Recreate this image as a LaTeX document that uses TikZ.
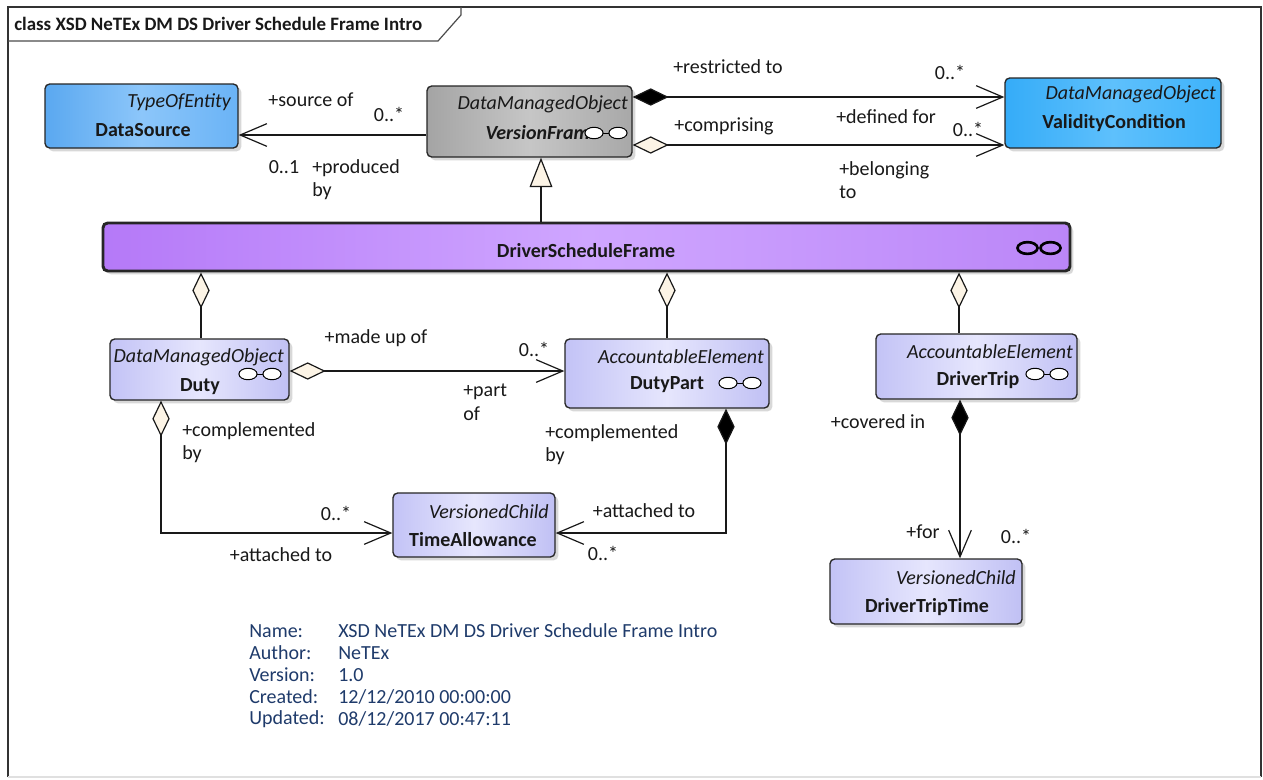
\documentclass[tikz,border=0pt]{standalone}
\usepackage{fontspec}
\setmainfont{Carlito}
\usetikzlibrary{arrows.meta,calc,fit,shadows}
\definecolor{cream}{HTML}{FCF4E6}
\definecolor{notecol}{HTML}{1F3B6B}
\definecolor{dsL}{HTML}{5AA8F0}\definecolor{dsM}{HTML}{8CC6FA}\definecolor{dsR}{HTML}{6AB3F6}
\definecolor{vcL}{HTML}{35ACF8}\definecolor{vcM}{HTML}{5EC0FC}\definecolor{vcR}{HTML}{3DB2FA}
\definecolor{gyL}{HTML}{A4A4A4}\definecolor{gyM}{HTML}{C6C6C6}\definecolor{gyR}{HTML}{A8A8A8}
\definecolor{puL}{HTML}{B579F8}\definecolor{puM}{HTML}{CFA6FF}\definecolor{puR}{HTML}{BB86F8}
\definecolor{lvL}{HTML}{C3C3F6}\definecolor{lvM}{HTML}{E6E6FD}\definecolor{lvR}{HTML}{C0C0F4}
\newcommand{\fsz}{\fontsize{15}{17.5}\selectfont}
\tikzset{
  basebox/.style={draw=black!85, line width=1pt, rounded corners=3.5pt, inner sep=0pt,
    drop shadow={shadow xshift=2.5pt, shadow yshift=-2.5pt, fill=black!30, opacity=0.5}},
  dsbox/.style={basebox, left color=dsL, right color=dsR, middle color=dsM},
  vcbox/.style={basebox, left color=vcL, right color=vcR, middle color=vcM},
  gybox/.style={basebox, left color=gyL, right color=gyR, middle color=gyM},
  pubox/.style={basebox, line width=2.2pt, left color=puL, right color=puR, middle color=puM},
  lvbox/.style={basebox, left color=lvL, right color=lvR, middle color=lvM},
  txt/.style={inner sep=0pt, text=black!90, font=\fsz},
  stereo/.style={txt, anchor=east, font=\fsz\itshape},
  cname/.style={txt, font=\fsz\bfseries},
  mlbl/.style={txt, align=left, anchor=north west},
  note/.style={inner sep=0pt, anchor=west, text=notecol, font=\fsz},
  ln/.style={line width=0.9pt, draw=black!90},
  barb/.tip={Straight Barb[length=20pt,width=17pt,line width=0.9pt]},
  hdia/.tip={Diamond[length=27pt,width=13pt,fill=cream]},
  fdia/.tip={Diamond[length=27pt,width=13pt,fill=black]},
  assocarrow/.style={ln, -barb},
  aggonly/.style={ln, hdia-},
  aggarrow/.style={ln, hdia-barb},
  comparrow/.style={ln, fdia-barb},
  genarrow/.style={ln, -{Triangle[length=22pt,width=17pt,fill=cream]}},
  linkicon/.pic={
    \draw[line width=0.75pt] (-3,0) -- (3,0);
    \draw[line width=0.75pt, fill=white] (-12,0) ellipse [x radius=6.8pt, y radius=4.3pt];
    \draw[line width=0.75pt, fill=white] (12,0) ellipse [x radius=6.8pt, y radius=4.3pt];
  },
  bigicon/.pic={
    \draw[line width=2pt] (-11.5,0) ellipse [x radius=7.5pt, y radius=4.4pt];
    \draw[line width=2pt] (11.5,0) ellipse [x radius=7.5pt, y radius=4.4pt];
  }
}
\begin{document}
\begin{tikzpicture}[x=0.75pt,y=-0.75pt]
\useasboundingbox (0,0) rectangle (1263,779);
\fill[white] (0,0) rectangle (1263,779);
% frame
\draw[line width=0.9pt, draw=black!80] (8,777) -- (8,7) -- (1261,7) -- (1261,777);
\draw[line width=0.9pt, draw=black!12] (8,777) -- (1261,777);
\draw[line width=0.9pt, draw=black!70] (8,41) -- (438,41) -- (461,15) -- (461,7);
\node[txt, anchor=west, font=\fontsize{14.2}{17}\selectfont\bfseries] (title) at (14,24) {class XSD NeTEx DM DS Driver Schedule Frame Intro};

% boxes
\node[dsbox, fit={(45,84) (238,148)}] (ds) {};
\node[gybox, fit={(427,86) (632,157)}] (vf) {};
\node[vcbox, fit={(1005,78) (1221,148)}] (vc) {};
\node[pubox, fit={(103,223) (1070,271)}] (dsf) {};
\node[lvbox, fit={(110,339) (289,400)}] (duty) {};
\node[lvbox, fit={(565,339) (769,408)}] (dp) {};
\node[lvbox, fit={(876,334) (1077,399)}] (dt) {};
\node[lvbox, fit={(393,493) (555,557)}] (ta) {};
\node[lvbox, fit={(830,559) (1022,624)}] (dtt) {};

% box texts
\node[stereo] (dsst) at (231,102) {TypeOfEntity};
\node[cname] (dsnm) at (143,130) {DataSource};
\node[stereo] (vfst) at (628,104) {DataManagedObject};
\node[cname, anchor=east, font=\fsz\bfseries\itshape] (vfnm) at (590,133) {VersionFram};
\pic at (606,133) {linkicon};
\node[stereo] (vcst) at (1216,94) {DataManagedObject};
\node[cname] (vcnm) at (1114,123) {ValidityCondition};
\node[cname] (dsfnm) at (586,251) {DriverScheduleFrame};
\pic at (1039,248) {bigicon};
\node[stereo] (dutyst) at (284,357) {DataManagedObject};
\node[cname] (dutynm) at (200,387) {Duty};
\pic at (260,374) {linkicon};
\node[stereo] (dpst) at (764,357) {AccountableElement};
\node[cname] (dpnm) at (667,385) {DutyPart};
\pic at (740,383) {linkicon};
\node[stereo] (dtst) at (1073,352) {AccountableElement};
\node[cname] (dtnm) at (978,380) {DriverTrip};
\pic at (1047,374) {linkicon};
\node[stereo] (tast) at (549,512) {VersionedChild};
\node[cname] (tanm) at (473,540) {TimeAllowance};
\node[stereo] (dttst) at (1016,578) {VersionedChild};
\node[cname] (dttnm) at (927,607) {DriverTripTime};

% connectors
\draw[assocarrow] ($(vf.west)+(0,13.5)$) coordinate (c1) -- (c1 -| ds.east);
\draw[comparrow] ($(vf.east)+(0,-24.5)$) coordinate (c2) -- (c2 -| vc.west);
\draw[aggarrow] ($(vf.east)+(0,23.5)$) coordinate (c3) -- (c3 -| vc.west);
\coordinate (c4) at ($(vf.south)+(11.5,0)$);
\draw[genarrow] (c4 |- dsf.north) -- (c4);
\coordinate (c5) at ($(duty.north)+(1.5,0)$);
\draw[aggonly] (c5 |- dsf.south) -- (c5);
\draw[aggonly] (dp.north |- dsf.south) -- (dp.north);
\coordinate (c7) at ($(dt.north)+(-17.5,0)$);
\draw[aggonly] (c7 |- dsf.south) -- (c7);
\draw[aggarrow] ($(duty.east)+(0,1.5)$) coordinate (c8) -- (c8 -| dp.west);
\draw[aggarrow] ($(duty.south)+(-38.5,0)$) |- ($(ta.west)+(0,8)$);
\draw[comparrow] ($(dp.south)+(59,0)$) |- ($(ta.east)+(0,8)$);
\draw[comparrow] ($(dt.south)+(-16.5,0)$) coordinate (c11) -- (c11 |- dtt.north);

% connector labels
\node[txt] (l1) at (311,100) {+source of};
\node[txt] (l2) at (389,114) {0..*};
\node[txt] (l3) at (284,167) {0..1};
\node[mlbl] (l4) at (312,159) {+produced\\by};
\node[txt] (l5) at (728,67) {+restricted to};
\node[txt] (l6) at (950,72) {0..*};
\node[txt] (l7) at (724,126) {+comprising};
\node[txt] (l8) at (886,117) {+defined for};
\node[txt] (l9) at (968,129) {0..*};
\node[mlbl] (l10) at (839,161) {+belonging\\to};
\node[txt] (l11) at (376,338) {+made up of};
\node[txt] (l12) at (534,349) {0..*};
\node[mlbl] (l13) at (463,384) {+part\\of};
\node[mlbl] (l14) at (182,422) {+complemented\\by};
\node[txt] (l15) at (336,513) {0..*};
\node[txt] (l16) at (281,555) {+attached to};
\node[mlbl] (l17) at (545,424) {+complemented\\by};
\node[txt] (l18) at (644,511) {+attached to};
\node[txt] (l19) at (603,553) {0..*};
\node[txt] (l20) at (878,422) {+covered in};
\node[txt] (l21) at (923,532) {+for};
\node[txt] (l22) at (1016,536) {0..*};

% notes
\node[note] (n1) at (249,631) {Name:};
\node[note] (n2) at (249,653) {Author:};
\node[note] (n3) at (249,675) {Version:};
\node[note] (n4) at (249,697) {Created:};
\node[note] (n5) at (249,719) {Updated:};
\node[note] (v1) at (338,631) {XSD NeTEx DM DS Driver Schedule Frame Intro};
\node[note] (v2) at (338,653) {NeTEx};
\node[note] (v3) at (338,675) {1.0};
\node[note] (v4) at (338,697) {12/12/2010 00:00:00};
\node[note] (v5) at (338,719) {08/12/2017 00:47:11};
\end{tikzpicture}
\end{document}
